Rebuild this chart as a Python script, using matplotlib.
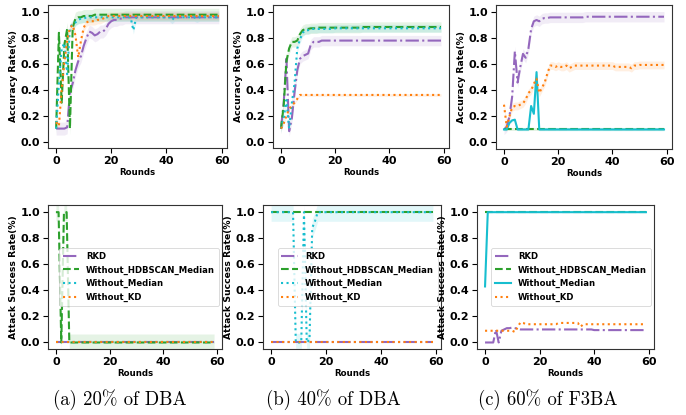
import numpy as np
import matplotlib
matplotlib.use('Agg')
import matplotlib.pyplot as plt

rounds = np.arange(60)
labels = ['RKD', 'Without_HDBSCAN_Median', 'Without_Median', 'Without_KD']

##################################################################
# (a) 20% of DBA - accuracy
acc_a_rkd = [0.10, 0.10, 0.10, 0.10, 0.11, 0.38, 0.45, 0.55, 0.62, 0.66,
             0.74, 0.80, 0.85, 0.84, 0.82, 0.83, 0.85, 0.85, 0.87, 0.91,
             0.93, 0.94, 0.94, 0.95, 0.95, 0.96, 0.96, 0.96, 0.96, 0.96,
             0.96, 0.96, 0.96, 0.96, 0.96, 0.96, 0.96, 0.96, 0.96, 0.96,
             0.96, 0.96, 0.96, 0.96, 0.96, 0.96, 0.96, 0.96, 0.96, 0.96,
             0.96, 0.96, 0.96, 0.96, 0.96, 0.96, 0.96, 0.96, 0.96, 0.96]
acc_a_hdb = [0.10, 0.84, 0.30, 0.75, 0.87, 0.10, 0.88, 0.95, 0.96, 0.96,
             0.97, 0.97, 0.97, 0.97, 0.98, 0.98, 0.98, 0.98, 0.98, 0.98,
             0.98, 0.98, 0.98, 0.98, 0.98, 0.98, 0.98, 0.98, 0.98, 0.98,
             0.98, 0.98, 0.98, 0.98, 0.98, 0.98, 0.98, 0.98, 0.98, 0.98,
             0.98, 0.98, 0.98, 0.98, 0.98, 0.98, 0.98, 0.98, 0.98, 0.98,
             0.98, 0.98, 0.98, 0.98, 0.98, 0.98, 0.98, 0.98, 0.98, 0.98]
acc_a_med = [0.10, 0.45, 0.72, 0.76, 0.52, 0.88, 0.91, 0.92, 0.94, 0.95,
             0.95, 0.96, 0.96, 0.96, 0.96, 0.96, 0.96, 0.96, 0.96, 0.96,
             0.96, 0.96, 0.96, 0.96, 0.96, 0.96, 0.96, 0.96, 0.86, 0.96,
             0.96, 0.96, 0.96, 0.96, 0.96, 0.96, 0.96, 0.96, 0.96, 0.96,
             0.96, 0.96, 0.94, 0.96, 0.96, 0.96, 0.96, 0.96, 0.96, 0.96,
             0.96, 0.95, 0.96, 0.96, 0.96, 0.96, 0.96, 0.96, 0.96, 0.96]
acc_a_kd = [0.15, 0.12, 0.40, 0.62, 0.78, 0.88, 0.90, 0.82, 0.65, 0.78,
            0.88, 0.92, 0.93, 0.93, 0.93, 0.94, 0.94, 0.95, 0.96, 0.97,
            0.97, 0.97, 0.97, 0.97, 0.97, 0.97, 0.97, 0.97, 0.97, 0.97,
            0.97, 0.97, 0.97, 0.97, 0.97, 0.97, 0.97, 0.97, 0.97, 0.97,
            0.97, 0.97, 0.97, 0.97, 0.97, 0.97, 0.97, 0.97, 0.97, 0.97,
            0.97, 0.97, 0.97, 0.97, 0.97, 0.97, 0.97, 0.97, 0.97, 0.97]
band_acc_a = [0.05, 0.05, 0.03, 0.03]

# (b) 40% of DBA - accuracy
acc_b_rkd = [0.10, 0.30, 0.64, 0.08, 0.18, 0.38, 0.55, 0.64, 0.66, 0.67,
             0.68, 0.75, 0.77, 0.77, 0.77, 0.78, 0.78, 0.78, 0.78, 0.78,
             0.78, 0.78, 0.78, 0.78, 0.78, 0.78, 0.78, 0.78, 0.78, 0.78,
             0.78, 0.78, 0.78, 0.78, 0.78, 0.78, 0.78, 0.78, 0.78, 0.78,
             0.78, 0.78, 0.78, 0.78, 0.78, 0.78, 0.78, 0.78, 0.78, 0.78,
             0.78, 0.78, 0.78, 0.78, 0.78, 0.78, 0.78, 0.78, 0.78, 0.78]
acc_b_hdb = [0.10, 0.28, 0.62, 0.72, 0.77, 0.77, 0.78, 0.83, 0.86, 0.87,
             0.87, 0.875, 0.875, 0.875, 0.88, 0.88, 0.88, 0.88, 0.88, 0.88,
             0.88, 0.88, 0.88, 0.88, 0.88, 0.88, 0.88, 0.88, 0.88, 0.88,
             0.885, 0.885, 0.885, 0.885, 0.885, 0.885, 0.885, 0.885, 0.885, 0.885,
             0.885, 0.885, 0.885, 0.885, 0.885, 0.885, 0.885, 0.885, 0.885, 0.885,
             0.885, 0.885, 0.885, 0.885, 0.885, 0.885, 0.885, 0.885, 0.885, 0.885]
acc_b_med = [0.10, 0.18, 0.32, 0.10, 0.30, 0.45, 0.72, 0.79, 0.84, 0.86,
             0.86, 0.87, 0.87, 0.87, 0.87, 0.87, 0.87, 0.87, 0.87, 0.87,
             0.875, 0.875, 0.875, 0.875, 0.875, 0.875, 0.875, 0.875, 0.875, 0.875,
             0.875, 0.875, 0.875, 0.875, 0.875, 0.875, 0.875, 0.875, 0.875, 0.875,
             0.875, 0.875, 0.875, 0.875, 0.875, 0.875, 0.875, 0.875, 0.875, 0.875,
             0.875, 0.875, 0.875, 0.875, 0.875, 0.875, 0.875, 0.875, 0.875, 0.875]
acc_b_kd = [0.10, 0.14, 0.20, 0.25, 0.28, 0.30, 0.33, 0.36, 0.36, 0.36,
            0.36, 0.36, 0.36, 0.36, 0.36, 0.36, 0.36, 0.36, 0.36, 0.36,
            0.36, 0.36, 0.36, 0.36, 0.36, 0.36, 0.36, 0.36, 0.36, 0.36,
            0.36, 0.36, 0.36, 0.36, 0.36, 0.36, 0.36, 0.36, 0.36, 0.36,
            0.36, 0.36, 0.36, 0.36, 0.36, 0.36, 0.36, 0.36, 0.36, 0.36,
            0.36, 0.36, 0.36, 0.36, 0.36, 0.36, 0.36, 0.36, 0.36, 0.36]
band_acc_b = [0.04, 0.04, 0.03, 0.01]

# (c) 60% of F3BA - accuracy
acc_c_rkd = [0.10, 0.12, 0.20, 0.35, 0.70, 0.46, 0.58, 0.68, 0.65, 0.72,
             0.87, 0.93, 0.94, 0.93, 0.95, 0.955, 0.955, 0.96, 0.96, 0.96,
             0.96, 0.96, 0.96, 0.96, 0.96, 0.96, 0.96, 0.96, 0.96, 0.96,
             0.965, 0.965, 0.965, 0.965, 0.965, 0.965, 0.965, 0.965, 0.965, 0.965,
             0.965, 0.965, 0.965, 0.965, 0.965, 0.965, 0.965, 0.965, 0.965, 0.965,
             0.965, 0.965, 0.965, 0.965, 0.965, 0.965, 0.965, 0.965, 0.965, 0.965]
acc_c_hdb = [0.10, 0.10, 0.10, 0.10, 0.10, 0.10, 0.10, 0.10, 0.10, 0.10,
             0.10, 0.10, 0.10, 0.10, 0.10, 0.10, 0.10, 0.10, 0.10, 0.10,
             0.10, 0.10, 0.10, 0.10, 0.10, 0.10, 0.10, 0.10, 0.10, 0.10,
             0.10, 0.10, 0.10, 0.10, 0.10, 0.10, 0.10, 0.10, 0.10, 0.10,
             0.10, 0.10, 0.10, 0.10, 0.10, 0.10, 0.10, 0.10, 0.10, 0.10,
             0.10, 0.10, 0.10, 0.10, 0.10, 0.10, 0.10, 0.10, 0.10, 0.10]
acc_c_med = [0.10, 0.10, 0.15, 0.17, 0.175, 0.10, 0.10, 0.10, 0.10, 0.10,
             0.28, 0.22, 0.54, 0.10, 0.10, 0.10, 0.10, 0.10, 0.10, 0.10,
             0.10, 0.10, 0.10, 0.10, 0.10, 0.10, 0.10, 0.10, 0.10, 0.10,
             0.10, 0.10, 0.10, 0.10, 0.10, 0.10, 0.10, 0.10, 0.10, 0.10,
             0.10, 0.10, 0.10, 0.10, 0.10, 0.10, 0.10, 0.10, 0.10, 0.10,
             0.10, 0.10, 0.10, 0.10, 0.10, 0.10, 0.10, 0.10, 0.10, 0.10]
acc_c_kd = [0.29, 0.12, 0.20, 0.27, 0.28, 0.28, 0.29, 0.30, 0.33, 0.38,
            0.40, 0.45, 0.49, 0.38, 0.42, 0.46, 0.53, 0.59, 0.59, 0.58,
            0.59, 0.58, 0.58, 0.59, 0.57, 0.58, 0.59, 0.59, 0.59, 0.59,
            0.59, 0.59, 0.59, 0.59, 0.59, 0.59, 0.59, 0.59, 0.59, 0.59,
            0.59, 0.58, 0.58, 0.58, 0.58, 0.58, 0.58, 0.57, 0.59, 0.59,
            0.595, 0.595, 0.595, 0.595, 0.595, 0.595, 0.595, 0.595, 0.595, 0.595]
band_acc_c = [0.04, 0.01, 0.01, 0.03]

# (a) 20% of DBA - attack success
asr_a_rkd = [0.0] * 60
asr_a_hdb = [1.0, 1.0, 0.0, 1.0, 1.0, 0.0, 0.0, 0.0, 0.0, 0.0,
             0.0, 0.0, 0.0, 0.0, 0.0, 0.0, 0.0, 0.0, 0.0, 0.0,
             0.0, 0.0, 0.0, 0.0, 0.0, 0.0, 0.0, 0.0, 0.0, 0.0,
             0.0, 0.0, 0.0, 0.0, 0.0, 0.0, 0.0, 0.0, 0.0, 0.0,
             0.0, 0.0, 0.0, 0.0, 0.0, 0.0, 0.0, 0.0, 0.0, 0.0,
             0.0, 0.0, 0.0, 0.0, 0.0, 0.0, 0.0, 0.0, 0.0, 0.0]
asr_a_med = [0.0] * 60
asr_a_kd = [0.0] * 60
band_asr_a = [0.0, 0.065, 0.0, 0.0]

# (b) 40% of DBA - attack success
asr_b_rkd = [0.0] * 60
asr_b_hdb = [1.0] * 60
asr_b_med = [1.0, 1.0, 1.0, 1.0, 1.0, 1.0, 1.0, 1.0, 1.0, 0.0,
             0.0, 0.0, 1.0, 0.0, 0.02, 0.88, 0.93, 1.0, 1.0, 1.0,
             1.0, 1.0, 1.0, 1.0, 1.0, 1.0, 1.0, 1.0, 1.0, 1.0,
             1.0, 1.0, 1.0, 1.0, 1.0, 1.0, 1.0, 1.0, 1.0, 1.0,
             1.0, 1.0, 1.0, 1.0, 1.0, 1.0, 1.0, 1.0, 1.0, 1.0,
             1.0, 1.0, 1.0, 1.0, 1.0, 1.0, 1.0, 1.0, 1.0, 1.0]
asr_b_kd = [0.0] * 60
band_asr_b = [0.0, 0.0, 0.07, 0.0]

# (c) 60% of F3BA - attack success
asr_c_rkd = [0.0, 0.0, 0.0, 0.0, 0.10, 0.0, 0.09, 0.10, 0.11, 0.11,
             0.115, 0.11, 0.105, 0.10, 0.10, 0.10, 0.10, 0.10, 0.10, 0.10,
             0.10, 0.10, 0.10, 0.10, 0.10, 0.10, 0.10, 0.10, 0.10, 0.10,
             0.10, 0.10, 0.10, 0.10, 0.10, 0.10, 0.10, 0.10, 0.10, 0.10,
             0.095, 0.095, 0.095, 0.095, 0.095, 0.095, 0.095, 0.095, 0.095, 0.095,
             0.095, 0.095, 0.095, 0.095, 0.095, 0.095, 0.095, 0.095, 0.095, 0.095]
asr_c_hdb = [1.0] * 60
asr_c_med = [0.43, 1.0, 1.0, 1.0, 1.0, 1.0, 1.0, 1.0, 1.0, 1.0,
             1.0, 1.0, 1.0, 1.0, 1.0, 1.0, 1.0, 1.0, 1.0, 1.0,
             1.0, 1.0, 1.0, 1.0, 1.0, 1.0, 1.0, 1.0, 1.0, 1.0,
             1.0, 1.0, 1.0, 1.0, 1.0, 1.0, 1.0, 1.0, 1.0, 1.0,
             1.0, 1.0, 1.0, 1.0, 1.0, 1.0, 1.0, 1.0, 1.0, 1.0,
             1.0, 1.0, 1.0, 1.0, 1.0, 1.0, 1.0, 1.0, 1.0, 1.0]
asr_c_kd = [0.09, 0.09, 0.09, 0.09, 0.09, 0.09, 0.09, 0.09, 0.09, 0.09,
            0.09, 0.08, 0.12, 0.155, 0.15, 0.14, 0.14, 0.14, 0.14, 0.14,
            0.14, 0.14, 0.14, 0.14, 0.14, 0.14, 0.14, 0.15, 0.15, 0.15,
            0.15, 0.15, 0.15, 0.15, 0.15, 0.12, 0.14, 0.14, 0.14, 0.14,
            0.14, 0.14, 0.14, 0.14, 0.14, 0.14, 0.14, 0.14, 0.14, 0.14,
            0.14, 0.14, 0.14, 0.14, 0.14, 0.14, 0.14, 0.14, 0.14, 0.14]
band_asr_c = [0.0, 0.0, 0.0, 0.0]
##################################################################

colors = ['tab:purple', 'tab:green', 'tab:cyan', 'tab:orange']
styles_dba = ['-.', '--', ':', ':']
styles_f3ba = ['-.', '--', '-', ':']

W, H = 686, 415
fig = plt.figure(figsize=(W / 100, H / 100), dpi=100)


def make_axes(l, t, r, b):
    return fig.add_axes([l / W, 1 - b / H, (r - l) / W, (b - t) / H])


def draw_panel(ax, series, bands, styles, ylabel, legend=False):
    for y, s, c, ls, lab in zip(series, bands, colors, styles, labels):
        y = np.array(y)
        if s > 0:
            ax.fill_between(rounds, y - s, y + s, color=c, alpha=0.12, lw=0)
        ax.plot(rounds, y, ls, color=c, lw=1.5, label=lab)
    ax.set_xlim(-2.95, 61.95)
    ax.set_ylim(-0.05, 1.055)
    ax.set_xticks([0, 20, 40, 60])
    ax.set_yticks([0.0, 0.2, 0.4, 0.6, 0.8, 1.0])
    ax.tick_params(labelsize=8, length=3.5, width=0.8, pad=2)
    for t in ax.get_xticklabels() + ax.get_yticklabels():
        t.set_fontweight('bold')
    ax.set_xlabel('Rounds', fontsize=6.2, fontweight='bold', labelpad=2)
    ax.set_ylabel(ylabel, fontsize=6.7, fontweight='bold', labelpad=2)
    for sp in ax.spines.values():
        sp.set_color('#333333')
    if legend:
        leg = ax.legend(loc='center right', fontsize=6.1, prop={'weight': 'bold', 'size': 6.1},
                        handlelength=2.0, borderaxespad=0.4, labelspacing=0.55)
        leg.get_frame().set_linewidth(0.6)


ax1 = make_axes(48, 5, 227, 148)
draw_panel(ax1, [acc_a_rkd, acc_a_hdb, acc_a_med, acc_a_kd], band_acc_a, styles_dba, 'Accuracy Rate(%)')
ax2 = make_axes(273, 5, 449, 148)
draw_panel(ax2, [acc_b_rkd, acc_b_hdb, acc_b_med, acc_b_kd], band_acc_b, styles_dba, 'Accuracy Rate(%)')
ax3 = make_axes(496, 5, 672, 149)
draw_panel(ax3, [acc_c_rkd, acc_c_hdb, acc_c_med, acc_c_kd], band_acc_c, styles_f3ba, 'Accuracy Rate(%)')

ax4 = make_axes(48, 205, 222, 349)
draw_panel(ax4, [asr_a_rkd, asr_a_hdb, asr_a_med, asr_a_kd], band_asr_a, styles_dba,
           'Attack Success Rate(%)', legend=True)
ax5 = make_axes(263, 205, 441, 349)
draw_panel(ax5, [asr_b_rkd, asr_b_hdb, asr_b_med, asr_b_kd], band_asr_b, styles_dba,
           'Attack Success Rate(%)', legend=True)
ax6 = make_axes(477, 205, 654, 349)
draw_panel(ax6, [asr_c_rkd, asr_c_hdb, asr_c_med, asr_c_kd], band_asr_c, styles_f3ba,
           'Attack Success Rate(%)', legend=True)

captions = ['(a) 20% of DBA', '(b) 40% of DBA', '(c) 60% of F3BA']
for cx, txt in zip([120, 333, 548], captions):
    fig.text(cx / W, 1 - 400 / H, txt, ha='center', va='center',
             fontsize=13.5, family=['cmr10', 'DejaVu Serif'])

plt.savefig('out.png', dpi=100)
